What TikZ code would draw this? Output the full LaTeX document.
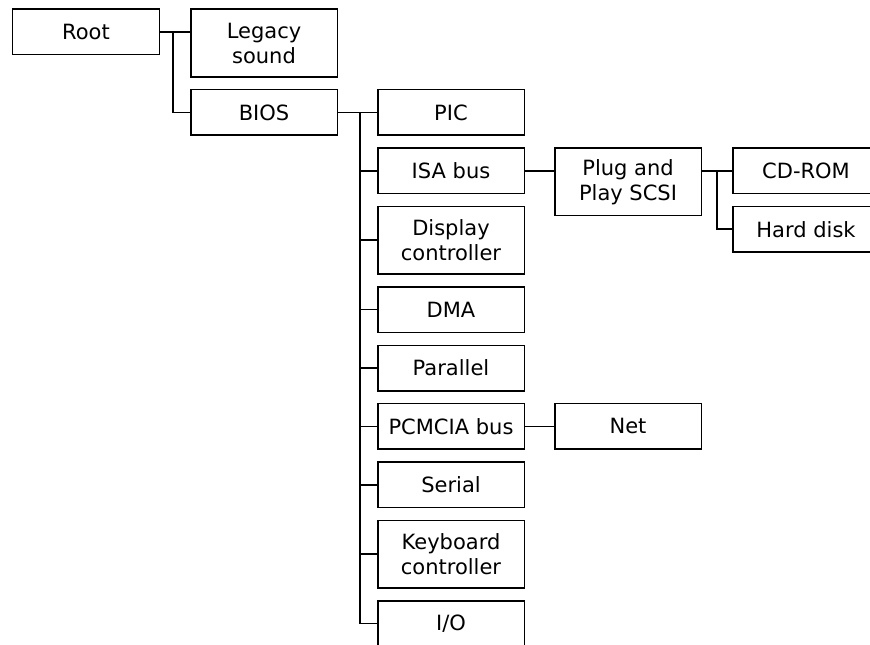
\documentclass[tikz,border=0pt]{standalone}
\usepackage{fontspec}
\setmainfont{DejaVu Sans}
\usetikzlibrary{positioning}

\begin{document}
\begin{tikzpicture}[node distance=11.4pt and 30pt, line width=1.5pt,
    box/.style={draw, minimum width=146.5pt, minimum height=45.5pt, inner sep=0pt,
        align=center, font=\fontsize{21pt}{25pt}\selectfont},
    tallbox/.style={box, minimum height=67.5pt}]
        % frame (the picture is cut at the right and bottom)
        \useasboundingbox (-86pt,32pt) rectangle (784pt,-613pt);
        \clip (-86pt,32pt) rectangle (784pt,-613pt);

        % Nodes
        \node (root) [box] at (0,0) {Root};
        \node (legacy) [tallbox, below right=0pt and 30pt of root.north east] {Legacy\\sound};
        \node (bios) [box, below=of legacy] {BIOS};

        \node (pic) [box, right=39pt of bios] {PIC};
        \node (isa) [box, below=of pic] {ISA bus};
        \node (disp) [tallbox, below=of isa] {Display\\controller};
        \node (dma) [box, below=of disp] {DMA};
        \node (par) [box, below=of dma] {Parallel};
        \node (pcmcia) [box, below=of par] {PCMCIA bus};
        \node (serial) [box, below=of pcmcia] {Serial};
        \node (kbd) [tallbox, below=of serial] {Keyboard\\controller};
        \node (io) [box, below=of kbd] {I/O};

        \node (plug) [tallbox, below right=0pt and 29pt of isa.north east] {Plug and\\Play SCSI};
        \node (cdrom) [box, below right=0pt and 30pt of plug.north east] {CD-ROM};
        \node (hdd) [box, below=of cdrom] {Hard disk};
        \node (net) [box, right=29pt of pcmcia] {Net};

        % Junctions
        \coordinate (rj) at ([xshift=13pt]root.east);
        \coordinate (bj) at ([xshift=22pt]bios.east);
        \coordinate (pj) at ([xshift=15pt]cdrom.west -| plug.east);

        % Lines
        \draw (root.east) -- (root.east -| legacy.west);
        \draw (rj) |- (bios.west);

        \draw (bios.east) -- (bios.east -| pic.west);
        \draw (bj) |- (io.west);
        \foreach \n in {isa,disp,dma,par,pcmcia,serial,kbd}
            \draw (bj |- \n.west) -- (\n.west);

        \draw (isa.east) -- (isa.east -| plug.west);
        \draw (cdrom.west -| plug.east) -- (cdrom.west);
        \draw (pj) |- (hdd.west);
        \draw (pcmcia) -- (net);

    \end{tikzpicture}
\end{document}
